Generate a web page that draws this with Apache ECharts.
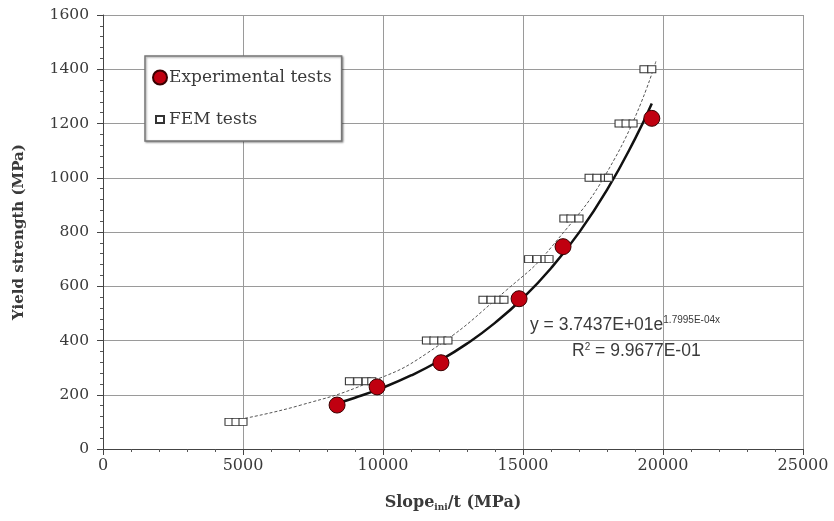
<!DOCTYPE html>
<html>
<head>
<meta charset="utf-8">
<script src="https://cdn.jsdelivr.net/npm/echarts@6/dist/echarts.min.js"></script>
<style>
  html, body { margin: 0; padding: 0; background: #fff; }
  #chart { width: 834px; height: 521px; }
</style>
</head>
<body>
<div id="chart"></div>
<script>
// Experimental tests: slope/t (MPa) vs yield strength (MPa)
const expSlope = [8360, 9790, 12070, 14860, 16430, 19600];
const expYield = [162, 229, 318, 554, 746, 1219];

// FEM tests: several simulations per yield level
const femSlope = [
  4500, 4750, 5000,
  8800, 9100, 9400, 9600,
  11550, 11820, 12100, 12320,
  13570, 13860, 14140, 14320,
  15200, 15500, 15790, 15930,
  16460, 16710, 17000,
  17360, 17640, 17930, 18050,
  18430, 18680, 18930,
  19320, 19600
];
const femYield = [
  100, 100, 100,
  250, 250, 250, 250,
  400, 400, 400, 400,
  550, 550, 550, 550,
  700, 700, 700, 700,
  850, 850, 850,
  1000, 1000, 1000, 1000,
  1200, 1200, 1200,
  1400, 1400
];

// Dashed trend through the FEM results
const femTrendSlope = [4900, 7000, 9500, 11600, 14400, 16100, 18300, 19750];
const femTrendYield = [110, 160, 245, 355, 585, 755, 1075, 1430];

// Exponential fit of the experimental data: y = a * e^(b x)
const fitA = 37.437;
const fitB = 1.7995e-4;
const fitSlope = [8360, 9000, 10000, 11000, 12000, 13000, 14000, 15000, 16000, 17000, 18000, 19000, 19600];

const xTicks = [0, 5000, 10000, 15000, 20000, 25000];
const yTicks = [0, 200, 400, 600, 800, 1000, 1200, 1400, 1600];

const zip = (a, b) => a.map((v, i) => [v, b[i]]);
const fitLine = fitSlope.map(x => [x, fitA * Math.exp(fitB * x)]);

const serif = 'DejaVu Serif';
const sans = 'Liberation Sans';
const textColor = '#3a3a3a';
const plain = v => String(v);

const chart = echarts.init(document.getElementById('chart'), null, { renderer: 'canvas' });

chart.setOption({
  animation: false,
  backgroundColor: '#fff',
  grid: { left: 103, right: 31, top: 15, bottom: 72 },
  xAxis: {
    type: 'value',
    min: xTicks[0],
    max: xTicks[xTicks.length - 1],
    interval: xTicks[1] - xTicks[0],
    axisLine: { show: true, lineStyle: { color: '#444', width: 1 } },
    axisTick: { show: true, length: 6, lineStyle: { color: '#444' } },
    minorTick: { show: true, splitNumber: 5, length: 3, lineStyle: { color: '#555' } },
    splitLine: { show: true, lineStyle: { color: '#9a9a9a', width: 1 } },
    axisLabel: { color: textColor, fontFamily: serif, fontSize: 16, margin: 9, formatter: plain },
    name: '{a|Slope}{b|ini}{a|/t (MPa)}',
    nameLocation: 'middle',
    nameGap: 44,
    nameTextStyle: {
      rich: {
        a: { fontFamily: serif, fontWeight: 'bold', fontSize: 16, color: textColor },
        b: { fontFamily: serif, fontWeight: 'bold', fontSize: 9, color: textColor, padding: [10, 0, 0, 0] }
      }
    }
  },
  yAxis: {
    type: 'value',
    min: yTicks[0],
    max: yTicks[yTicks.length - 1],
    interval: yTicks[1] - yTicks[0],
    axisLine: { show: true, lineStyle: { color: '#444', width: 1 } },
    axisTick: { show: true, length: 6, lineStyle: { color: '#444' } },
    minorTick: { show: true, splitNumber: 5, length: 3, lineStyle: { color: '#555' } },
    splitLine: { show: true, lineStyle: { color: '#9a9a9a', width: 1 } },
    axisLabel: { color: textColor, fontFamily: serif, fontSize: 15.5, margin: 14, formatter: plain },
    name: 'Yield strength (MPa)',
    nameLocation: 'middle',
    nameGap: 76,
    nameTextStyle: { fontFamily: serif, fontWeight: 'bold', fontSize: 15, color: textColor }
  },
  legend: {
    orient: 'vertical',
    left: 145,
    top: 56,
    padding: [13, 10, 13, 7],
    itemGap: 25,
    itemWidth: 14,
    itemHeight: 14,
    backgroundColor: '#fff',
    borderColor: '#777',
    borderWidth: 1.5,
    shadowColor: 'rgba(0,0,0,0.35)',
    shadowBlur: 2,
    shadowOffsetX: 1,
    shadowOffsetY: 1,
    textStyle: { fontFamily: serif, fontSize: 17, color: textColor, padding: [0, 0, 0, -3] },
    data: [
      { name: 'Experimental tests', icon: 'circle' },
      { name: 'FEM tests', icon: 'path://M0,0M14,14M3,3.5h8v7h-8z' }
    ]
  },
  series: [
    {
      name: 'FEM trend',
      type: 'line',
      data: zip(femTrendSlope, femTrendYield),
      smooth: true,
      showSymbol: false,
      symbol: 'none',
      lineStyle: { color: '#555', width: 1, type: [3, 2] },
      z: 2
    },
    {
      name: 'Exponential fit',
      type: 'line',
      data: fitLine,
      smooth: true,
      showSymbol: false,
      symbol: 'none',
      lineStyle: { color: '#111', width: 2.5 },
      z: 3
    },
    {
      name: 'FEM tests',
      type: 'scatter',
      data: zip(femSlope, femYield),
      symbol: 'rect',
      symbolSize: [8, 7],
      itemStyle: { color: '#fff', borderColor: '#333', borderWidth: 1, opacity: 1 },
      z: 4
    },
    {
      name: 'Experimental tests',
      type: 'scatter',
      data: zip(expSlope, expYield),
      symbol: 'circle',
      symbolSize: 16,
      itemStyle: { color: '#c00010', borderColor: '#3a0000', borderWidth: 1, opacity: 1 },
      z: 5
    }
  ],
  graphic: [
    {
      type: 'text',
      left: 530,
      top: 315,
      style: {
        text: '{n|y = 3.7437E+01e}{s|1.7995E-04x}',
        rich: {
          n: { fontFamily: sans, fontSize: 17.5, fill: textColor },
          s: { fontFamily: sans, fontSize: 10, fill: textColor, padding: [0, 0, 11, 0] }
        }
      }
    },
    {
      type: 'text',
      left: 572,
      top: 342,
      style: {
        text: '{n|R}{s|2}{n| = 9.9677E-01}',
        rich: {
          n: { fontFamily: sans, fontSize: 17.5, fill: textColor },
          s: { fontFamily: sans, fontSize: 10, fill: textColor, padding: [0, 0, 9, 0] }
        }
      }
    }
  ]
});
</script>
</body>
</html>
